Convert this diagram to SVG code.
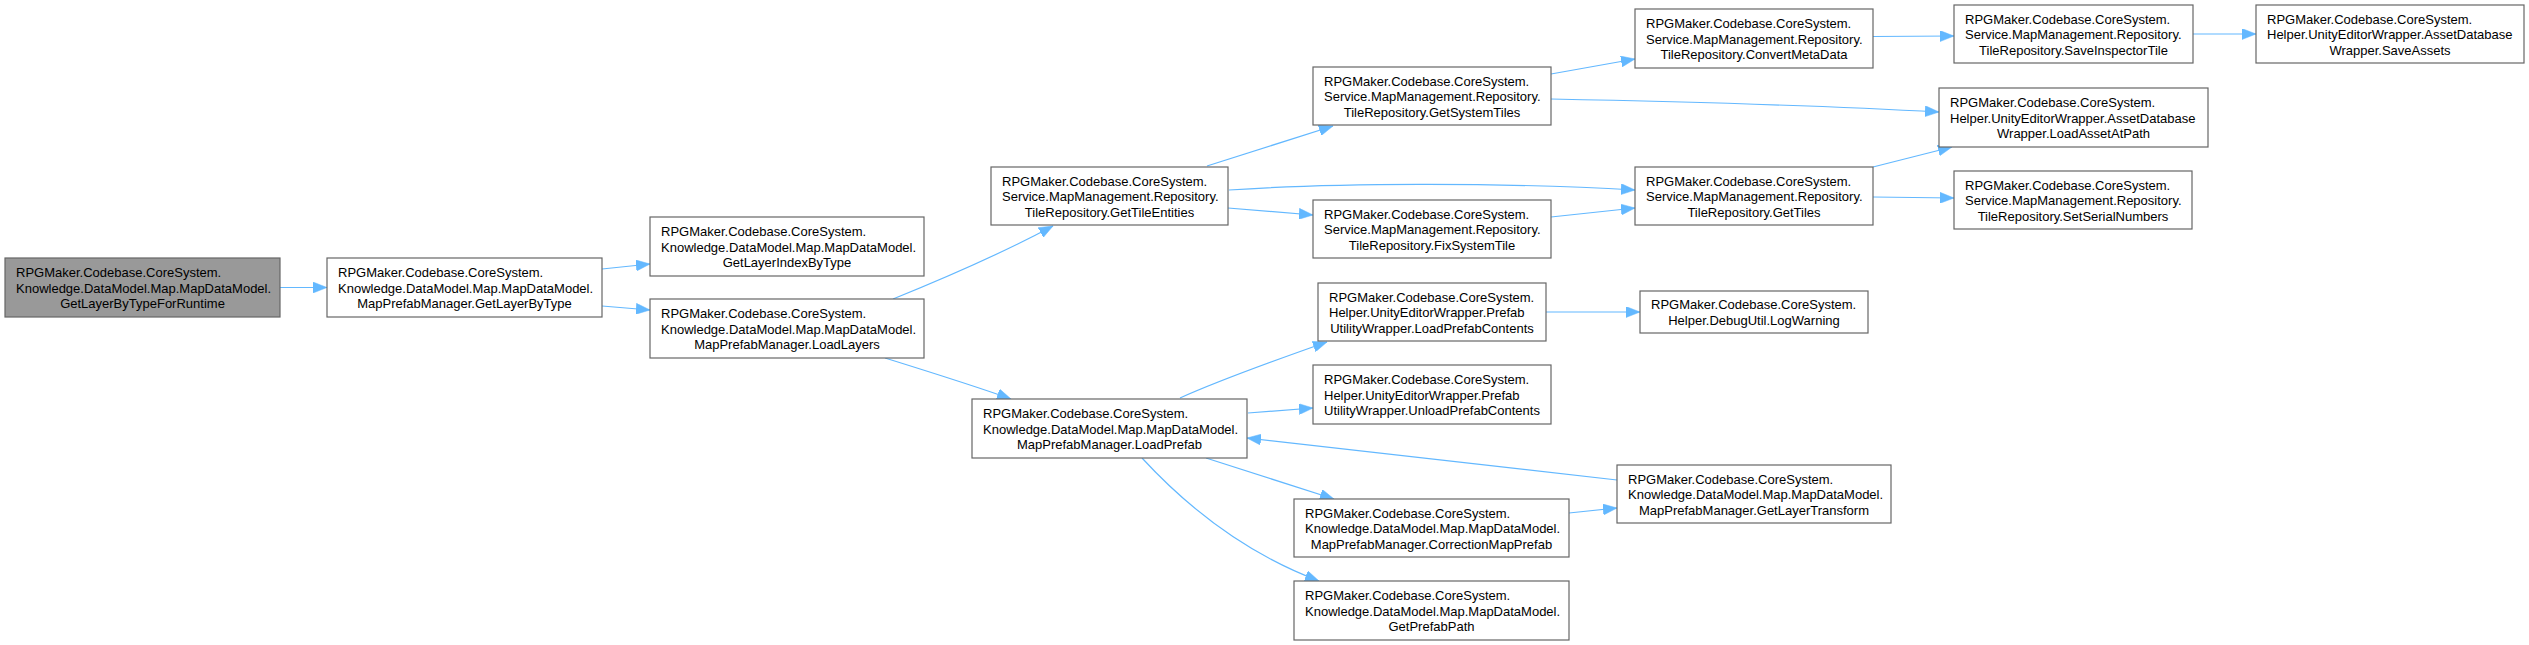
<svg xmlns="http://www.w3.org/2000/svg" width="2529" height="645" viewBox="0 0 2529 645">
<style>
.n rect{fill:#ffffff;stroke:#666666;stroke-width:1.2}
.n.g rect{fill:#999999}
.n text{font-family:"Liberation Sans",Arial,sans-serif;font-size:13px;fill:#000000}
.l{text-anchor:start}
.c{text-anchor:middle}
.e path{fill:none;stroke:#63b8ff;stroke-width:1.2;marker-end:url(#ah)}
</style>
<defs>
<marker id="ah" markerUnits="userSpaceOnUse" markerWidth="15" markerHeight="11" refX="14" refY="5.5" orient="auto">
<path d="M0,0 L14,5.5 L0,11 z" fill="#63b8ff" stroke="#63b8ff" stroke-width="0.5"/>
</marker>
</defs>
<rect width="2529" height="645" fill="#ffffff"/>
<g class="e" id="edges">
<path d="M280,287.5 L327,287.5"/>
<path d="M602,269 L650,264"/>
<path d="M602,306 L650,310"/>
<path d="M893,299 C935,282 995,257 1053,226"/>
<path d="M1207,166 L1333,126"/>
<path d="M1551,74 L1635,59"/>
<path d="M1551,99 C1700,102 1850,107 1939,112"/>
<path d="M1229,190 C1330,183 1500,182 1635,190"/>
<path d="M1228,208 L1313,215"/>
<path d="M1551,217 L1635,208"/>
<path d="M1873,167 L1952,147"/>
<path d="M1873,197 L1954,198"/>
<path d="M1873,36.5 L1954,36"/>
<path d="M2193,34 L2256,34"/>
<path d="M885,358 C930,372 975,386 1011,399"/>
<path d="M1180,398 C1220,380 1270,362 1327,342"/>
<path d="M1248,413 L1313,408"/>
<path d="M1546,312 L1640,312"/>
<path d="M1206,458 L1334,499"/>
<path d="M1142,458 C1190,510 1250,555 1319,581"/>
<path d="M1569,513 L1617,508"/>
<path d="M1617,480 L1247,438"/>
</g>
<g class="n g" id="n1"><rect x="5" y="258" width="275" height="59"/>
<text class="l" x="16" y="277">RPGMaker.Codebase.CoreSystem.</text><text class="l" x="16" y="292.5">Knowledge.DataModel.Map.MapDataModel.</text><text class="c" x="142.5" y="308">GetLayerByTypeForRuntime</text></g>
<g class="n" id="n2"><rect x="327" y="258" width="275" height="59"/>
<text class="l" x="338" y="277">RPGMaker.Codebase.CoreSystem.</text><text class="l" x="338" y="292.5">Knowledge.DataModel.Map.MapDataModel.</text><text class="c" x="464.5" y="308">MapPrefabManager.GetLayerByType</text></g>
<g class="n" id="n3"><rect x="650" y="217" width="274" height="59"/>
<text class="l" x="661" y="236">RPGMaker.Codebase.CoreSystem.</text><text class="l" x="661" y="251.5">Knowledge.DataModel.Map.MapDataModel.</text><text class="c" x="787" y="267">GetLayerIndexByType</text></g>
<g class="n" id="n4"><rect x="650" y="299" width="274" height="59"/>
<text class="l" x="661" y="318">RPGMaker.Codebase.CoreSystem.</text><text class="l" x="661" y="333.5">Knowledge.DataModel.Map.MapDataModel.</text><text class="c" x="787" y="349">MapPrefabManager.LoadLayers</text></g>
<g class="n" id="n5"><rect x="991" y="167" width="237" height="58"/>
<text class="l" x="1002" y="185.5">RPGMaker.Codebase.CoreSystem.</text><text class="l" x="1002" y="201">Service.MapManagement.Repository.</text><text class="c" x="1109.5" y="216.5">TileRepository.GetTileEntities</text></g>
<g class="n" id="n6"><rect x="1313" y="67" width="238" height="58"/>
<text class="l" x="1324" y="85.5">RPGMaker.Codebase.CoreSystem.</text><text class="l" x="1324" y="101">Service.MapManagement.Repository.</text><text class="c" x="1432" y="116.5">TileRepository.GetSystemTiles</text></g>
<g class="n" id="n7"><rect x="1313" y="200" width="238" height="58"/>
<text class="l" x="1324" y="218.5">RPGMaker.Codebase.CoreSystem.</text><text class="l" x="1324" y="234">Service.MapManagement.Repository.</text><text class="c" x="1432" y="249.5">TileRepository.FixSystemTile</text></g>
<g class="n" id="n8"><rect x="1318" y="283" width="228" height="58"/>
<text class="l" x="1329" y="301.5">RPGMaker.Codebase.CoreSystem.</text><text class="l" x="1329" y="317">Helper.UnityEditorWrapper.Prefab</text><text class="c" x="1432" y="332.5">UtilityWrapper.LoadPrefabContents</text></g>
<g class="n" id="n9"><rect x="1313" y="365" width="238" height="59"/>
<text class="l" x="1324" y="384">RPGMaker.Codebase.CoreSystem.</text><text class="l" x="1324" y="399.5">Helper.UnityEditorWrapper.Prefab</text><text class="c" x="1432" y="415">UtilityWrapper.UnloadPrefabContents</text></g>
<g class="n" id="n10"><rect x="972" y="399" width="275" height="59"/>
<text class="l" x="983" y="418">RPGMaker.Codebase.CoreSystem.</text><text class="l" x="983" y="433.5">Knowledge.DataModel.Map.MapDataModel.</text><text class="c" x="1109.5" y="449">MapPrefabManager.LoadPrefab</text></g>
<g class="n" id="n11"><rect x="1294" y="499" width="275" height="58"/>
<text class="l" x="1305" y="517.5">RPGMaker.Codebase.CoreSystem.</text><text class="l" x="1305" y="533">Knowledge.DataModel.Map.MapDataModel.</text><text class="c" x="1431.5" y="548.5">MapPrefabManager.CorrectionMapPrefab</text></g>
<g class="n" id="n12"><rect x="1294" y="581" width="275" height="59"/>
<text class="l" x="1305" y="600">RPGMaker.Codebase.CoreSystem.</text><text class="l" x="1305" y="615.5">Knowledge.DataModel.Map.MapDataModel.</text><text class="c" x="1431.5" y="631">GetPrefabPath</text></g>
<g class="n" id="n13"><rect x="1617" y="465" width="274" height="58"/>
<text class="l" x="1628" y="483.5">RPGMaker.Codebase.CoreSystem.</text><text class="l" x="1628" y="499">Knowledge.DataModel.Map.MapDataModel.</text><text class="c" x="1754" y="514.5">MapPrefabManager.GetLayerTransform</text></g>
<g class="n" id="n14"><rect x="1635" y="9" width="238" height="59"/>
<text class="l" x="1646" y="28">RPGMaker.Codebase.CoreSystem.</text><text class="l" x="1646" y="43.5">Service.MapManagement.Repository.</text><text class="c" x="1754" y="59">TileRepository.ConvertMetaData</text></g>
<g class="n" id="n15"><rect x="1954" y="5" width="239" height="58"/>
<text class="l" x="1965" y="23.5">RPGMaker.Codebase.CoreSystem.</text><text class="l" x="1965" y="39">Service.MapManagement.Repository.</text><text class="c" x="2073.5" y="54.5">TileRepository.SaveInspectorTile</text></g>
<g class="n" id="n16"><rect x="2256" y="5" width="268" height="58"/>
<text class="l" x="2267" y="23.5">RPGMaker.Codebase.CoreSystem.</text><text class="l" x="2267" y="39">Helper.UnityEditorWrapper.AssetDatabase</text><text class="c" x="2390" y="54.5">Wrapper.SaveAssets</text></g>
<g class="n" id="n17"><rect x="1939" y="88" width="269" height="59"/>
<text class="l" x="1950" y="107">RPGMaker.Codebase.CoreSystem.</text><text class="l" x="1950" y="122.5">Helper.UnityEditorWrapper.AssetDatabase</text><text class="c" x="2073.5" y="138">Wrapper.LoadAssetAtPath</text></g>
<g class="n" id="n18"><rect x="1635" y="167" width="238" height="58"/>
<text class="l" x="1646" y="185.5">RPGMaker.Codebase.CoreSystem.</text><text class="l" x="1646" y="201">Service.MapManagement.Repository.</text><text class="c" x="1754" y="216.5">TileRepository.GetTiles</text></g>
<g class="n" id="n19"><rect x="1954" y="171" width="238" height="58"/>
<text class="l" x="1965" y="189.5">RPGMaker.Codebase.CoreSystem.</text><text class="l" x="1965" y="205">Service.MapManagement.Repository.</text><text class="c" x="2073" y="220.5">TileRepository.SetSerialNumbers</text></g>
<g class="n" id="n20"><rect x="1640" y="291" width="228" height="42"/>
<text class="l" x="1651" y="309">RPGMaker.Codebase.CoreSystem.</text><text class="c" x="1754" y="324.5">Helper.DebugUtil.LogWarning</text></g>
</svg>
